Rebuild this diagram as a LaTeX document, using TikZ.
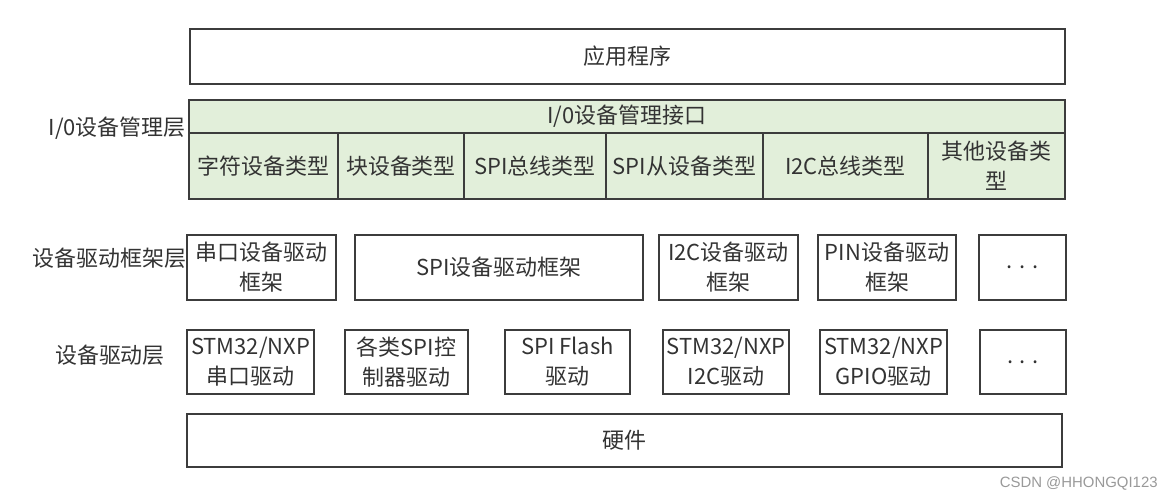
\documentclass[tikz,border=0pt]{standalone}
\usepackage{fontspec}
\newfontfamily\cjk{Noto Sans CJK SC}
\newfontfamily\wmfont{Liberation Sans}
\usepackage{tikz}
\definecolor{lineGray}{HTML}{3C3C3C}
\definecolor{textGray}{HTML}{333333}
\definecolor{ioGreen}{HTML}{E2EFDA}

\begin{document}
\begin{tikzpicture}[
						x=0.02cm, y=-0.02cm,
						layer/.style={rectangle, draw=lineGray, line width=0.9pt, text=textGray, font=\cjk\fontsize{12.5}{17}\selectfont, align=center, inner sep=1pt},
						iocell/.style={layer, fill=ioGreen, minimum height=1.32cm},
						fwbox/.style={layer, minimum height=1.3cm},
						drvbox/.style={layer, minimum height=1.28cm},
						tag/.style={text=textGray, font=\cjk\fontsize{12.5}{15}\selectfont, inner sep=0pt}
						]
						\useasboundingbox (0,0) rectangle (1172,501);
						
						% Aplicación
						\node[layer, minimum width=17.5cm, minimum height=1.1cm] (app) at (627.5, 56.5) {应用程序};
						
						% Capa de gestión de E/S
						\node[tag, anchor=east] (ioTag) at (186, 128) {I/0设备管理层};
						\node[layer, fill=ioGreen, minimum width=17.52cm, minimum height=0.66cm] (ioHead) at (627, 116.5) {I/0设备管理接口};
						\node[iocell, minimum width=2.98cm] (ioChar) at (263.5, 166) {字符设备类型};
						\node[iocell, minimum width=2.52cm] (ioBlock) at (401, 166) {块设备类型};
						\node[iocell, minimum width=2.84cm] (ioSpiBus) at (535, 166) {SPI总线类型};
						\node[iocell, minimum width=3.14cm] (ioSpiDev) at (684.5, 166) {SPI从设备类型};
						\node[iocell, minimum width=3.3cm] (ioI2cBus) at (845.5, 166) {I2C总线类型};
						\node[iocell, minimum width=2.74cm] (ioOther) at (996.5, 166) {其他设备类\\型};
						
						% Capa de frameworks de drivers
						\node[tag, anchor=east] (fwTag) at (187, 258) {设备驱动框架层};
						\node[fwbox, minimum width=2.98cm] (fwUart) at (261.5, 267.5) {串口设备驱动\\框架};
						\node[fwbox, minimum width=5.76cm] (fwSpi) at (499, 267.5) {SPI设备驱动框架};
						\node[fwbox, minimum width=2.78cm] (fwI2c) at (728.5, 267.5) {I2C设备驱动\\框架};
						\node[fwbox, minimum width=2.76cm] (fwPin) at (887, 267.5) {PIN设备驱动\\框架};
						\node[fwbox, minimum width=1.74cm] (fwMore) at (1022.5, 267.5) {. . .};
						
						% Capa de drivers
						\node[tag] (drvTag) at (110, 355) {设备驱动层};
						\node[drvbox, minimum width=2.54cm] (drvUart) at (250.5, 362) {STM32/NXP\\串口驱动};
						\node[drvbox, minimum width=2.46cm] (drvSpiCtl) at (406.5, 362) {各类SPI控\\制器驱动};
						\node[drvbox, minimum width=2.5cm] (drvFlash) at (567.5, 362) {SPI Flash\\驱动};
						\node[drvbox, minimum width=2.52cm] (drvI2c) at (726, 362) {STM32/NXP\\I2C驱动};
						\node[drvbox, minimum width=2.54cm] (drvGpio) at (883.5, 362) {STM32/NXP\\GPIO驱动};
						\node[drvbox, minimum width=1.72cm] (drvMore) at (1023, 362) {. . .};
						
						% Hardware
						\node[layer, minimum width=17.5cm, minimum height=1.06cm] (hw) at (624.5, 440.5) {硬件};
						
						% Marca de agua
						\node[text=gray!80, font=\wmfont\fontsize{8.5}{10}\selectfont, anchor=east, inner sep=0pt] (mark) at (1158, 483) {CSDN @HHONGQI123};
						
					\end{tikzpicture}
\end{document}
